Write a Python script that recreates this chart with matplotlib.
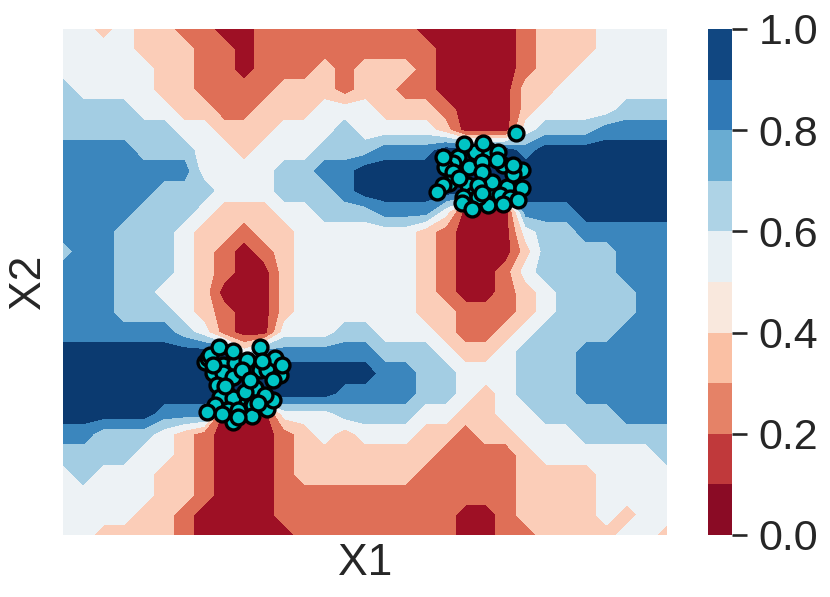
import numpy as np
import matplotlib
matplotlib.use("Agg")
import matplotlib.pyplot as plt
from matplotlib.colors import ListedColormap, BoundaryNorm
from matplotlib.cm import ScalarMappable

plt.rcParams["font.family"] = ["Liberation Sans", "DejaVu Sans"]

# =========================
# DATA
# =========================

# filled band of the surface, top row first, left column first
BANDS = [
    [3,3,2,3,2,2,1,1,0,0,1,1,1,1,1,1,1,1,0,0,0,0,0,1,2,2,2,3,3,3,3],
    [3,3,3,3,2,2,2,1,1,0,1,1,1,1,1,1,1,1,1,0,0,0,0,1,2,2,2,3,3,3,3],
    [3,3,3,3,3,2,2,1,1,0,1,1,1,2,1,2,2,2,1,0,0,0,0,1,2,2,3,3,3,3,3],
    [4,3,3,3,3,2,2,1,1,1,1,2,2,2,1,2,2,1,1,0,0,0,0,2,2,3,3,3,3,3,3],
    [4,4,4,4,3,3,2,2,1,1,2,2,2,3,3,3,2,2,2,1,0,0,0,2,3,3,3,3,4,4,4],
    [4,4,4,4,4,4,3,3,2,2,2,3,3,3,4,3,3,3,3,2,0,0,0,3,4,4,4,5,5,5,5],
    [5,5,5,5,4,4,4,3,3,2,3,3,3,4,4,4,5,5,5,6,6,6,6,5,6,6,6,6,6,6,6],
    [5,5,5,5,5,5,5,3,3,3,3,4,4,5,5,6,6,6,6,6,6,6,6,6,6,6,6,6,6,6,6],
    [5,5,5,5,5,4,4,4,3,3,3,4,4,4,5,6,6,6,6,6,6,6,6,6,6,6,6,6,6,6,6],
    [5,5,5,5,4,4,4,3,2,2,2,3,3,4,4,4,5,5,5,3,0,0,0,5,5,5,6,6,6,6,6],
    [5,5,5,4,4,4,3,2,2,1,2,2,3,3,3,3,3,3,2,1,0,0,0,3,4,4,5,5,5,5,5],
    [4,5,5,4,4,4,3,2,1,0,1,2,3,3,3,3,3,3,2,1,0,0,0,2,4,4,4,4,5,5,5],
    [5,5,5,4,4,4,3,2,1,0,0,2,3,3,3,3,3,3,2,1,0,0,1,3,4,4,4,4,5,5,5],
    [5,5,5,4,4,3,3,2,0,0,0,2,3,3,3,3,3,3,2,1,0,0,1,2,3,4,4,4,4,5,5],
    [5,5,5,4,4,4,3,2,1,0,0,2,3,3,3,3,3,3,2,2,1,1,1,2,3,4,4,4,4,5,5],
    [5,5,5,5,5,5,4,3,1,0,0,3,3,3,4,4,3,3,3,2,1,1,2,3,4,4,4,4,5,5,5],
    [6,6,6,6,6,6,6,6,6,3,5,5,5,5,5,5,4,4,4,3,2,2,3,4,4,4,5,5,5,5,5],
    [6,6,6,6,6,6,6,6,6,6,6,6,6,6,6,6,5,5,4,4,3,3,3,4,4,4,5,5,5,5,5],
    [6,6,6,6,6,6,6,6,6,6,6,6,6,6,5,5,5,5,4,4,3,2,3,4,4,4,5,5,5,5,5],
    [6,6,6,6,6,5,5,5,0,0,0,3,3,3,4,4,4,4,3,3,2,2,3,3,4,4,4,4,5,5,5],
    [5,5,4,4,4,3,2,1,0,0,0,1,2,3,2,3,3,3,2,2,1,2,2,3,3,3,4,4,4,4,4],
    [4,4,4,4,3,3,2,1,0,0,0,1,2,2,2,2,2,2,2,1,1,1,1,2,3,3,3,3,3,3,4],
    [3,4,3,3,3,2,2,1,0,0,0,1,2,2,2,2,2,2,1,1,1,1,1,2,2,2,2,3,3,3,3],
    [3,3,3,3,3,2,2,1,0,0,0,1,1,1,1,1,1,1,1,1,1,1,1,2,2,2,2,3,3,3,3],
    [3,3,3,3,2,2,1,0,0,0,0,1,1,1,1,1,1,1,1,1,0,0,1,2,2,2,2,3,2,3,3],
    [3,3,2,2,2,2,1,0,0,0,0,0,1,1,1,1,1,1,1,1,0,0,1,1,2,2,2,2,3,3,2],
]

# points, lower-left cluster then upper-right cluster (topmost drawn last)
X1_A = [180,165,190,175,160,172,197,204,217,212,184,142,145,147,150,160,170,154,192,210,157,170,182,204,210,202,
        152,165,175,170,189,156,170,197,150,199,219,179,187,162,195,175,159,144]
X2_A = [140,140,130,135,170,172,165,165,160,177,175,173,177,180,162,162,158,150,147,155,138,137,143,126,135,140,
        130,125,125,113,119,188,184,188,170,174,170,165,155,149,132,118,121,123]

X1_B = [395,425,440,430,405,410,425,412,435,390,382,406,419,434,459,390,386,380,429,444,459,400,437,447,455,399,415,
        374,380,396,419,415,450,450,419,440,409,453,401,420]
X2_B = [378,385,370,345,350,340,330,383,383,372,368,368,373,375,365,363,352,350,353,348,347,338,340,337,335,332,338,
        343,378,357,363,350,361,370,342,331,326,402,391,392]

X1_MAX, X2_MAX = 604, 506

LEVELS = [0.0, 0.15, 0.30, 0.45, 0.60, 0.75, 0.90, 1.05]
BAND_COLORS = ["#9e1025", "#df6f57", "#fbcdb8", "#edf2f5", "#a3cde3", "#3b86bd", "#0b3a70"]

CBAR_BOUNDS = [0.0, 0.1, 0.2, 0.3, 0.4, 0.5, 0.6, 0.7, 0.8, 0.9, 1.0]
CBAR_COLORS = ["#8a0b25", "#c0393b", "#e58267", "#fac0a4", "#f9e8dd",
               "#e8f0f4", "#aed3e6", "#69acd2", "#3079b6", "#114781"]
CBAR_TICKS = [0.0, 0.2, 0.4, 0.6, 0.8, 1.0]

# =========================
# PLOT
# =========================

W, H = 830, 597
fig = plt.figure(figsize=(W / 100, H / 100), dpi=100)
ax = fig.add_axes([63 / W, (H - 535) / H, 604 / W, 506 / H])
cax = fig.add_axes([708 / W, (H - 535) / H, 24 / W, 506 / H])

bands = np.array(BANDS, dtype=float)
zz = (bands + 0.5) * 0.15
gx = np.linspace(0, X1_MAX, bands.shape[1])
gy = np.linspace(X2_MAX, 0, bands.shape[0])

ax.contourf(gx, gy, zz, levels=LEVELS, colors=BAND_COLORS)
ax.scatter(X1_A + X1_B, X2_A + X2_B, s=115, c="#00c5c5", edgecolors="black", linewidths=2.4, zorder=3)

ax.set_xlim(0, X1_MAX)
ax.set_ylim(0, X2_MAX)
ax.set_xticks([])
ax.set_yticks([])
for s in ax.spines.values():
    s.set_visible(False)
ax.set_xlabel("X1", fontsize=32, color=".15", labelpad=6)
ax.set_ylabel("X2", fontsize=32, color=".15", labelpad=10)

norm = BoundaryNorm(CBAR_BOUNDS, len(CBAR_COLORS))
cb = fig.colorbar(ScalarMappable(norm=norm, cmap=ListedColormap(CBAR_COLORS)), cax=cax, ticks=CBAR_TICKS)
cb.outline.set_visible(False)
cb.ax.set_yticklabels([f"{t:.1f}" for t in CBAR_TICKS])
cb.ax.tick_params(length=11, width=1.9, color=".15", labelcolor=".15", labelsize=31, pad=8)
cb.ax.minorticks_off()

fig.savefig("out.png", dpi=100)
